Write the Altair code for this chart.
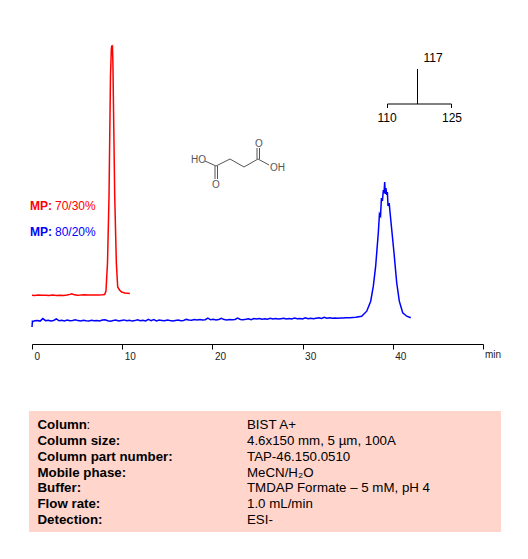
import altair as alt
import pandas as pd

# --- chromatogram traces (time in min, detector signal in arbitrary units) ---
red_t = [0, .3, .7, 1.1, 1.5, 1.9, 2.3, 2.7, 3.1, 3.5, 3.9, 4.2, 4.4, 4.6, 5.0, 5.4, 5.8, 6.2, 6.6, 7.0, 7.4, 7.8, 8.05,
         8.20, 8.37, 8.54, 8.70, 8.76, 8.80, 8.84, 8.88, 8.92, 8.97, 9.17, 9.35, 9.50, 9.70, 9.94, 10.3, 10.85]
red_s = [48.8, 48.6, 49.0, 48.7, 48.8, 48.5, 48.9, 48.6, 48.7, 48.4, 48.9, 49.6, 50.2, 49.5, 48.8, 48.9, 49.2, 48.9, 49.0, 49.1, 49.0, 49.2, 49.4,
         53, 81, 148, 268, 285, 296, 297.5, 297, 297.5, 281, 148, 81, 57, 54, 52, 51, 50.5]

# baseline of the blue trace, one reading every 0.3 min from 0.3 min on
blue_base = [23.2, 23.6, 22.9, 25.4, 23.3, 23.8, 23.0, 23.5, 25.2, 23.2, 23.7, 23.1, 23.9, 23.3, 23.6, 24.2, 23.4, 23.1, 23.8, 23.3,
             23.0, 23.7, 23.2, 23.6, 23.1, 23.9, 24.3, 23.2, 22.8, 23.5, 23.9, 23.0, 23.6, 24.1, 23.2, 23.7, 22.9, 23.4, 24.2, 23.3,
             23.7, 23.0, 24.6, 23.4, 24.4, 23.1, 24.0, 23.6, 23.2, 23.9, 23.4, 23.0, 23.6, 23.9, 23.3, 23.5, 24.6, 24.0, 23.7, 24.4,
             24.0, 24.6, 23.9, 24.3, 25.9, 24.2, 24.7, 24.1, 24.5, 25.6, 24.4, 24.1, 24.6, 24.3, 24.5, 25.9, 24.6, 24.3, 24.7, 25.2,
             24.4, 25.5, 24.9, 25.4, 24.8, 25.2, 24.7, 25.7, 25.0, 25.4, 24.9, 25.3, 25.7, 25.0, 25.4, 25.1, 25.9, 25.2, 25.5, 25.0,
             26.2, 25.3, 25.7, 25.2, 25.8, 26.3, 25.5, 26.8, 25.8, 26.2, 25.7, 26.0, 25.8, 26.1, 25.9, 26.2]
blue_base_t = [round(0.3 + i * 0.3, 1) for i in range(len(blue_base))]
blue_peak_t = [35.25, 35.9, 36.55, 37.11, 37.55, 37.84, 38.10, 38.25, 38.40, 38.52, 38.64, 38.74, 38.85, 38.95, 39.03, 39.10, 39.17,
               39.24, 39.32, 39.40, 39.47, 39.60, 39.69, 39.88, 40.13, 40.43, 40.72, 41.10, 41.54, 41.99]
blue_peak_s = [26.2, 26.8, 27.8, 32.8, 42.8, 57.8, 77.8, 95, 112, 130, 128, 146, 143, 154, 151, 162, 150,
               156, 149, 152, 138, 141, 132, 114.5, 91.5, 61.5, 42.8, 31.2, 27.8, 26.2]
blue_t = [0, 0.05, 0.12] + blue_base_t + blue_peak_t
blue_s = [17, 22.8, 22.6] + blue_base + blue_peak_s

x_ticks = [0, 10, 20, 30, 40, 50]

# --- conditions table ---
row_labels = ["Column", "Column size:", "Column part number:", "Mobile phase:", "Buffer:", "Flow rate:", "Detection:"]
row_values = ["BIST A+", "4.6x150 mm, 5 µm, 100A", "TAP-46.150.0510", "MeCN/H₂O",
              "TMDAP Formate – 5 mM, pH 4", "1.0 mL/min", "ESI-"]

FONT = "Liberation Sans"
X0, Y0 = 32, 8            # page position of the plot area origin


def seg(points):
    return [{"x": a - X0, "y": b - Y0, "x2": c - X0, "y2": d - Y0} for a, b, c, d in points]


def rules(points, color, width):
    return alt.Chart(pd.DataFrame(seg(points))).mark_rule(color=color, strokeWidth=width).encode(
        x=alt.X("x:Q", scale=None), x2="x2:Q", y=alt.Y("y:Q", scale=None), y2="y2:Q")


def label(items, color="black", size=12, bold=False, align="left"):
    df = pd.DataFrame([{"t": t, "x": x - X0, "y": y - Y0} for t, x, y in items])
    return alt.Chart(df).mark_text(font=FONT, fontSize=size, color=color, align=align, baseline="alphabetic",
                                   fontWeight="bold" if bold else "normal").encode(
        x=alt.X("x:Q", scale=None), y=alt.Y("y:Q", scale=None), text="t:N")


x_scale = alt.Scale(domain=[0, 50], nice=False, zero=False)
y_scale = alt.Scale(domain=[0, 336], nice=False, zero=False)

x_axis = alt.Axis(title=None, values=x_ticks, grid=False, tickSize=5, tickColor="black", domainColor="black",
                  labelFont=FONT, labelFontSize=10, labelColor="#222222", labelAlign="left", labelOffset=2,
                  labelPadding=2, labelExpr="datum.value < 50 ? datum.label : ''", labelOverlap=False, labelFlush=False)


def trace(t, s, color):
    return alt.Chart(pd.DataFrame({"t": t, "s": s})).mark_line(color=color, strokeWidth=1.5, clip=False).encode(
        x=alt.X("t:Q", scale=x_scale, axis=x_axis), y=alt.Y("s:Q", scale=y_scale, axis=None), order="t:Q")


panel = alt.Chart(pd.DataFrame([{"x": 29 - X0, "x2": 501 - X0, "y": 411 - Y0, "y2": 532 - Y0}])).mark_rect(
    color="#FFD5CC").encode(x=alt.X("x:Q", scale=None), x2="x2:Q", y=alt.Y("y:Q", scale=None), y2="y2:Q")

baselines = [429, 445, 461, 477, 492, 508, 524]

molecule = rules([
    (205, 161, 216, 166), (216, 166, 230, 159), (230, 159, 244, 167), (244, 167, 258, 159), (258, 159, 269, 165),
    (215, 166, 215, 179), (217.5, 166, 217.5, 179), (257, 159, 257, 148), (259.5, 159, 259.5, 148),
], "#555555", 1)

ms_tree = rules([
    (417.5, 69, 417.5, 104), (387.5, 104, 451.5, 104), (387.5, 104, 387.5, 108), (451.5, 104, 451.5, 108),
], "black", 1)

chart = alt.layer(
    panel,
    trace(red_t, red_s, "#FF0000"),
    trace(blue_t, blue_s, "#0000FF"),
    molecule,
    ms_tree,
    label([("HO", 191, 163), ("OH", 270, 171), ("O", 212, 188), ("O", 255, 147)], color="#555555", size=10),
    label([("117", 433, 62), ("110", 387, 122), ("125", 452, 122)], align="center"),
    label([("min", 485, 358)], size=10, color="#222222"),
    label([("MP:", 30, 210)], color="#FF0000", bold=True),
    label([("70/30%", 55, 210)], color="#FF0000"),
    label([("MP:", 30, 236)], color="#0000FF", bold=True),
    label([("80/20%", 55, 236)], color="#0000FF"),
    label([(t, 37.5, b) for t, b in zip(row_labels, baselines)], bold=True, size=13.3),
    label([(":", 86.5, baselines[0])], size=13.3),
    label([(t, 247, b) for t, b in zip(row_values, baselines)], size=13.3),
).properties(
    width=451, height=336,
    background="white",
    autosize=alt.AutoSizeParams(type="none"),
    padding={"left": 24, "top": 0, "right": 37, "bottom": 207},
).configure_view(stroke=None)

chart.save("out.html", embed_options={"renderer": "svg", "actions": False})
